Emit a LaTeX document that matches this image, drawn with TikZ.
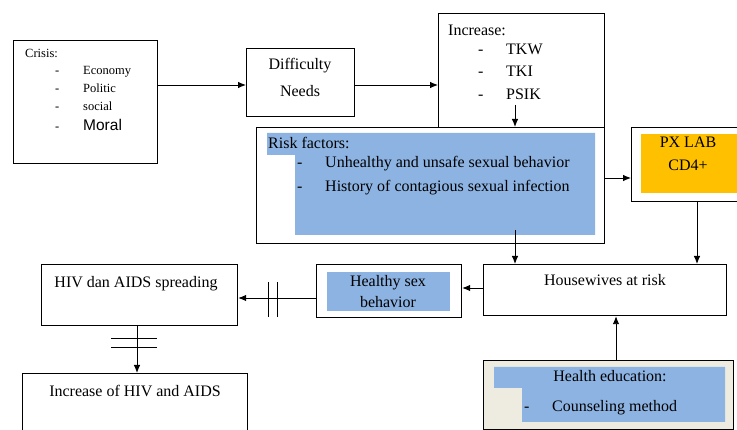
\documentclass[tikz,border=0pt]{standalone}
\usepackage{fontspec}
\setmainfont{Liberation Serif}
\newfontfamily\arialf{Liberation Sans}
\usetikzlibrary{arrows.meta}
\definecolor{hlblue}{HTML}{8DB3E2}
\definecolor{orng}{HTML}{FFC000}
\definecolor{beige}{HTML}{EEECE1}
\begin{document}
\begin{tikzpicture}[x=1pt,y=-1pt,
  box/.style={draw, line width=1.2pt, inner sep=0pt, anchor=north west},
  conn/.style={line width=0.9pt, -{Latex[length=8pt,width=6.5pt]}},
  bar/.style={line width=0.9pt},
  txt/.style={inner sep=0pt, anchor=base west, font=\fontsize{16}{18}\selectfont},
  ctxt/.style={inner sep=0pt, anchor=base, font=\fontsize{16}{18}\selectfont},
  stxt/.style={inner sep=0pt, anchor=base west, font=\fontsize{12.5}{14}\selectfont}]
\clip (0,0) rectangle (737,430);
\fill[white] (0,0) rectangle (737,430);

% boxes
\node[box, minimum width=144pt, minimum height=123pt] (crisis) at (13,40) {};
\node[box, minimum width=108pt, minimum height=68pt] (diff) at (246,48) {};
\node[box, minimum width=166pt, minimum height=114pt] (incr) at (438,13) {};
\node[box, minimum width=348pt, minimum height=116pt] (risk) at (256,127) {};
\node[box, minimum width=112pt, minimum height=74pt] (px) at (631,127) {};
\node[box, minimum width=243pt, minimum height=51pt] (house) at (483,264) {};
\node[box, minimum width=145pt, minimum height=53pt] (healthy) at (316,264) {};
\node[box, minimum width=196pt, minimum height=61pt] (hiv) at (41,264) {};
\node[box, minimum width=225pt, minimum height=70pt] (incaids) at (22,373) {};
\node[box, fill=beige, minimum width=250pt, minimum height=69pt] (edu) at (483,360) {};

% fills
\fill[hlblue] (267,133) -- (595,133) -- (595,235) -- (295,235) -- (295,155) -- (267,155) -- cycle;
\fill[hlblue] (327,272) rectangle (450,311);
\fill[hlblue] (494,367) -- (725,367) -- (725,422) -- (522,422) -- (522,388) -- (494,388) -- cycle;
\fill[orng] (641,134) rectangle (737,193);

% texts
\node[stxt] (t1) at (25,58) {Crisis:};
\node[stxt] (d1) at (55,75) {-};
\node[stxt] (t2) at (83,75) {Economy};
\node[stxt] (d2) at (55,93) {-};
\node[stxt] (t3) at (83,93) {Politic};
\node[stxt] (d3) at (55,111) {-};
\node[stxt] (t4) at (83,111) {social};
\node[stxt] (d4) at (55,131) {-};
\node[inner sep=0pt, anchor=base west, font=\arialf\fontsize{15.5}{17}\selectfont] (t5) at (83,131) {Moral};

\node[ctxt] (t6) at (300,70) {Difficulty};
\node[ctxt] (t7) at (300,97) {Needs};

\node[txt] (t8) at (448,36) {Increase:};
\node[txt] (d5) at (478,55) {-};
\node[txt] (t9) at (506,55) {TKW};
\node[txt] (d6) at (478,77) {-};
\node[txt] (t10) at (506,77) {TKI};
\node[txt] (d7) at (478,100) {-};
\node[txt] (t11) at (506,100) {PSIK};

\node[txt] (t12) at (268,149) {Risk factors:};
\node[txt] (d8) at (297,168) {-};
\node[txt] (t13) at (325,168) {Unhealthy and unsafe sexual behavior};
\node[txt] (d9) at (297,192) {-};
\node[txt] (t14) at (325,192) {History of contagious sexual infection};

\node[ctxt] (t15) at (688,148) {PX LAB};
\node[ctxt] (t16) at (688,171) {CD4+};

\node[ctxt] (t17) at (605,286) {Housewives at risk};
\node[ctxt] (t18) at (388,287) {Healthy sex};
\node[ctxt] (t19) at (388,308) {behavior};
\node[ctxt] (t20) at (136,288) {HIV dan AIDS spreading};
\node[ctxt] (t21) at (135,397) {Increase of HIV and AIDS};
\node[ctxt] (t22) at (610,382) {Health education:};
\node[txt] (d10) at (524,412) {-};
\node[txt] (t23) at (552,412) {Counseling method};

% connectors
\coordinate (c1) at (157,85);
\draw[conn] (c1) -- (c1 -| diff.west);
\coordinate (c2) at (354,85);
\draw[conn] (c2) -- (c2 -| incr.west);
\coordinate (c3) at (515,105);
\draw[conn] (c3) -- (c3 |- risk.north);
\coordinate (c4) at (604,178);
\draw[conn] (c4) -- (c4 -| px.west);
\coordinate (c5) at (515,230);
\draw[conn] (c5) -- (c5 |- house.north);
\coordinate (c6) at (697,201);
\draw[conn] (c6) -- (c6 |- house.north);
\coordinate (c7) at (616,360);
\draw[conn] (c7) -- (c7 |- house.south);
\coordinate (c8) at (483,288);
\draw[conn] (c8) -- (c8 -| healthy.east);
\coordinate (c9) at (316,298);
\draw[conn] (c9) -- (c9 -| hiv.east);
\draw[bar] (268,282) -- (268,317);
\draw[bar] (277,282) -- (277,317);
\coordinate (c10) at (137,325);
\draw[conn] (c10) -- (c10 |- incaids.north);
\draw[bar] (111,338) -- (157,338);
\draw[bar] (111,347) -- (157,347);
\end{tikzpicture}
\end{document}
